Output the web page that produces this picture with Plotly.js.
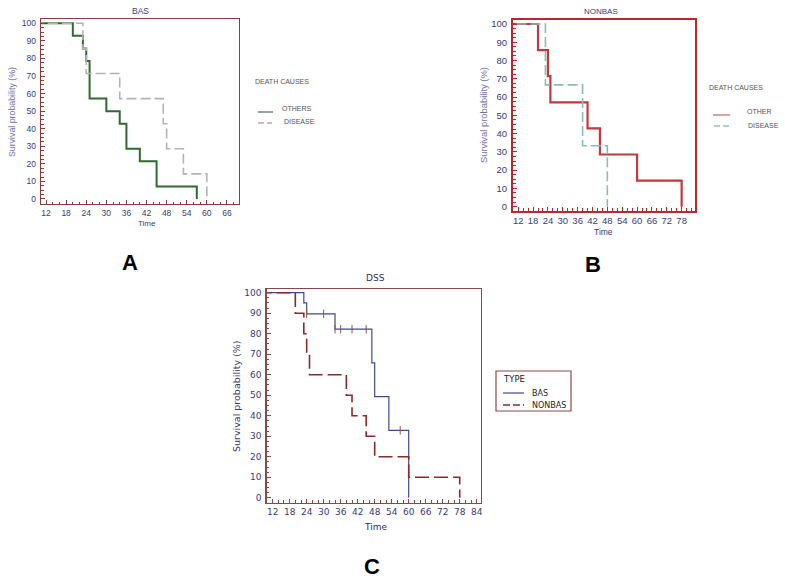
<!DOCTYPE html>
<html>
<head>
<meta charset="utf-8">
<script src="https://cdn.plot.ly/plotly-3.0.1.min.js"></script>
<style>html,body{margin:0;padding:0;background:#fff;}#chart{width:785px;height:582px;}</style>
</head>
<body>
<div id="chart"></div>
<script>
// ---------- DATA ----------
// Panel A: BAS, death causes (Kaplan-Meier steps)
const aOthersTime = [0, 20, 23, 24, 25, 30, 34, 36, 40, 45, 57];
const aOthersSurv = [100, 92.86, 85.71, 78.57, 57.14, 50, 42.86, 28.57, 21.43, 7.14, 0];
const aDiseaseTime = [0, 23, 24, 34, 47, 48, 53, 60];
const aDiseaseSurv = [100, 85.71, 71.43, 57.14, 42.86, 28.57, 14.29, 0];
// Panel B: NONBAS, death causes
const bOtherTime = [0, 20, 24, 25, 40, 45, 60, 78];
const bOtherSurv = [100, 85.71, 71.43, 57.14, 42.86, 28.57, 14.29, 0];
const bDiseaseTime = [0, 23, 38, 48];
const bDiseaseSurv = [100, 66.67, 33.33, 0];
// Panel C: DSS by type
const cBasTime = [0, 23, 24, 34, 47, 48, 53, 60];
const cBasSurv = [100, 95, 89.7, 82.2, 65.8, 49.3, 32.9, 0];
const cBasCensorTime = [24, 30, 34, 36, 40, 45, 57];
const cBasCensorSurv = [89.7, 89.7, 82.2, 82.2, 82.2, 82.2, 32.9];
const cNonbasTime = [0, 20, 23, 24, 25, 38, 40, 45, 48, 60, 78];
const cNonbasSurv = [100, 90, 80, 70, 60, 50, 40, 30, 20, 10, 0];
// Labels
const panelTitles = ['BAS', 'NONBAS', 'DSS'];
const panelLetters = ['A', 'B', 'C'];
const legendATitle = 'DEATH CAUSES';
const legendANames = ['OTHERS', 'DISEASE'];
const legendBTitle = 'DEATH CAUSES';
const legendBNames = ['OTHER', 'DISEASE'];
const legendCTitle = 'TYPE';
const legendCNames = ['BAS', 'NONBAS'];
const xTitle = 'Time';
const yTitle = 'Survival probability (%)';

// ---------- helpers ----------
const W = 785, H = 582;
const px = v => v / W;
const py = v => 1 - v / H;

const colA = {others: '#2f6a2f', disease: '#b4b4b4', frame: '#8e3b3b'};
const colB = {other: '#c2383c', disease: '#86bdb5', frame: '#b8282c'};
const colC = {bas: '#3c4a8c', nonbas: '#8a2a2a', frame: '#8b4848'};
const tickCol = '#3b3b7d';
const arial = 'Liberation Sans, Arial, sans-serif';
const dejavu = 'DejaVu Sans, Verdana, sans-serif';

function xax(domain, range, frame, lw, font, size, anchor) {
  return {
    domain: domain, range: range, anchor: anchor,
    tickmode: 'linear', tick0: 12, dtick: 6,
    showline: true, mirror: true, linecolor: frame, linewidth: lw,
    ticks: 'inside', ticklen: 4, tickcolor: frame, tickwidth: 1,
    minor: {dtick: 2, ticks: 'inside', ticklen: 2.5, tickcolor: frame, showgrid: false},
    tickfont: {family: font, size: size, color: tickCol},
    showgrid: false, zeroline: false, fixedrange: true
  };
}
function yax(domain, range, frame, lw, font, size, anchor) {
  return {
    domain: domain, range: range, anchor: anchor,
    tickmode: 'linear', tick0: 0, dtick: 10,
    showline: true, mirror: true, linecolor: frame, linewidth: lw,
    ticks: 'inside', ticklen: 4, tickcolor: frame, tickwidth: 1,
    minor: {dtick: 2.5, ticks: 'inside', ticklen: 2.5, tickcolor: frame, showgrid: false},
    tickfont: {family: font, size: size, color: tickCol},
    ticklabelstandoff: 2,
    showgrid: false, zeroline: false, fixedrange: true
  };
}

const traces = [
  {x: aOthersTime, y: aOthersSurv, xaxis: 'x', yaxis: 'y', mode: 'lines', name: legendANames[0],
   line: {shape: 'hv', color: colA.others, width: 2}, showlegend: false},
  {x: aDiseaseTime, y: aDiseaseSurv, xaxis: 'x', yaxis: 'y', mode: 'lines', name: legendANames[1],
   line: {shape: 'hv', color: colA.disease, width: 1.6, dash: '10px,4px'}, showlegend: false},
  {x: bOtherTime, y: bOtherSurv, xaxis: 'x2', yaxis: 'y2', mode: 'lines', name: legendBNames[0],
   line: {shape: 'hv', color: colB.other, width: 2.2}, showlegend: false},
  {x: bDiseaseTime, y: bDiseaseSurv, xaxis: 'x2', yaxis: 'y2', mode: 'lines', name: legendBNames[1],
   line: {shape: 'hv', color: colB.disease, width: 1.6, dash: '10px,4px'}, showlegend: false},
  {x: cBasTime, y: cBasSurv, xaxis: 'x3', yaxis: 'y3', mode: 'lines', name: legendCNames[0],
   line: {shape: 'hv', color: colC.bas, width: 1.2}, showlegend: false},
  {x: cBasCensorTime, y: cBasCensorSurv, xaxis: 'x3', yaxis: 'y3', mode: 'markers', name: 'censored',
   marker: {symbol: 'line-ns-open', size: 6, line: {color: colC.bas, width: 1}}, showlegend: false},
  {x: cNonbasTime, y: cNonbasSurv, xaxis: 'x3', yaxis: 'y3', mode: 'lines', name: legendCNames[1],
   line: {shape: 'hv', color: colC.nonbas, width: 1.6, dash: '14px,5px'}, showlegend: false}
];

const ann = [];
function txt(text, x, y, opts) {
  ann.push(Object.assign({text: text, xref: 'paper', yref: 'paper', x: px(x), y: py(y),
    xanchor: 'center', yanchor: 'middle', showarrow: false}, opts));
}
// panel titles
txt(panelTitles[0], 140, 11, {font: {family: arial, size: 8.5, color: tickCol}});
txt(panelTitles[1], 601, 11, {font: {family: arial, size: 8, color: tickCol}});
txt(panelTitles[2], 375, 278, {font: {family: dejavu, size: 9, color: '#2e2e5e'}});
// axis titles
txt(xTitle, 147, 224, {font: {family: arial, size: 8, color: tickCol}});
txt(xTitle, 603, 232, {font: {family: arial, size: 8.5, color: tickCol}});
txt(xTitle, 375, 527, {font: {family: dejavu, size: 9, color: '#2e2e5e'}});
txt(yTitle, 12, 112, {textangle: -90, font: {family: arial, size: 8.8, color: '#7070a8'}});
txt(yTitle, 484, 115, {textangle: -90, font: {family: arial, size: 9.4, color: '#7070a8'}});
txt(yTitle, 236, 397, {textangle: -90, font: {family: dejavu, size: 9.5, color: '#3a3a6a'}});
// panel letters
txt(panelLetters[0], 130, 263, {font: {family: arial, size: 22, color: '#000'}, text: '<b>A</b>'});
txt(panelLetters[1], 593, 265, {font: {family: arial, size: 22, color: '#000'}, text: '<b>B</b>'});
txt(panelLetters[2], 372, 566, {font: {family: arial, size: 22, color: '#000'}, text: '<b>C</b>'});
// legends (text)
const legGrey = '#555555';
txt(legendATitle, 253, 82, {xanchor: 'left', font: {family: arial, size: 7, color: legGrey}});
txt(legendANames[0], 280, 108, {xanchor: 'left', font: {family: arial, size: 7, color: legGrey}});
txt(legendANames[1], 282, 121, {xanchor: 'left', font: {family: arial, size: 7, color: legGrey}});
txt(legendBTitle, 707, 87, {xanchor: 'left', font: {family: arial, size: 7, color: legGrey}});
txt(legendBNames[0], 745, 112, {xanchor: 'left', font: {family: arial, size: 7, color: legGrey}});
txt(legendBNames[1], 746, 125, {xanchor: 'left', font: {family: arial, size: 7, color: legGrey}});
txt(legendCTitle, 501, 379, {xanchor: 'left', font: {family: dejavu, size: 8.5, color: '#222'}});
txt(legendCNames[0], 530, 393, {xanchor: 'left', font: {family: dejavu, size: 8, color: '#222'}});
txt(legendCNames[1], 530, 405, {xanchor: 'left', font: {family: dejavu, size: 8, color: '#222'}});

function seg(x0, x1, y, color, width, dash) {
  return {type: 'line', xref: 'paper', yref: 'paper', x0: px(x0), x1: px(x1), y0: py(y), y1: py(y),
    line: {color: color, width: width, dash: dash || 'solid'}};
}
const shapes = [
  seg(258, 273, 112, '#6f7f6f', 1.4),
  seg(258, 272, 123, '#b0b0b0', 1.4, '6px,3px'),
  seg(713, 730, 115, '#d07a80', 1.4),
  seg(714, 730, 126, '#8cc4bc', 1.4, '6px,3px'),
  seg(503, 524, 393, colC.bas, 1.2),
  seg(503, 524, 405, colC.nonbas, 1.4, '7px,3px'),
  {type: 'rect', xref: 'paper', yref: 'paper', x0: px(496), x1: px(571), y0: py(371), y1: py(411),
   line: {color: colC.frame, width: 1.2}}
];

const layout = {
  width: W, height: H,
  margin: {l: 0, r: 0, t: 0, b: 0},
  paper_bgcolor: '#ffffff', plot_bgcolor: '#ffffff',
  showlegend: false,
  xaxis: xax([px(41), px(239)], [10.5, 69.6], colA.frame, 1.3, arial, 8.5, 'y'),
  yaxis: yax([py(204), py(19)], [-2.85, 102.45], colA.frame, 1.3, arial, 8.5, 'x'),
  xaxis2: xax([px(513), px(695)], [9.9, 83.4], colB.frame, 2, arial, 9.5, 'y2'),
  yaxis2: yax([py(210.7), py(20)], [-2.2, 102.2], colB.frame, 2, arial, 9.5, 'x2'),
  xaxis3: xax([px(266.7), px(480.7)], [9.9, 85.4], colC.frame, 1.5, dejavu, 9, 'y3'),
  yaxis3: yax([py(502.7), py(289)], [-2.4, 101.8], colC.frame, 1.5, dejavu, 9, 'x3'),
  annotations: ann,
  shapes: shapes
};

Plotly.newPlot('chart', traces, layout, {staticPlot: true, displayModeBar: false});
</script>
</body>
</html>
